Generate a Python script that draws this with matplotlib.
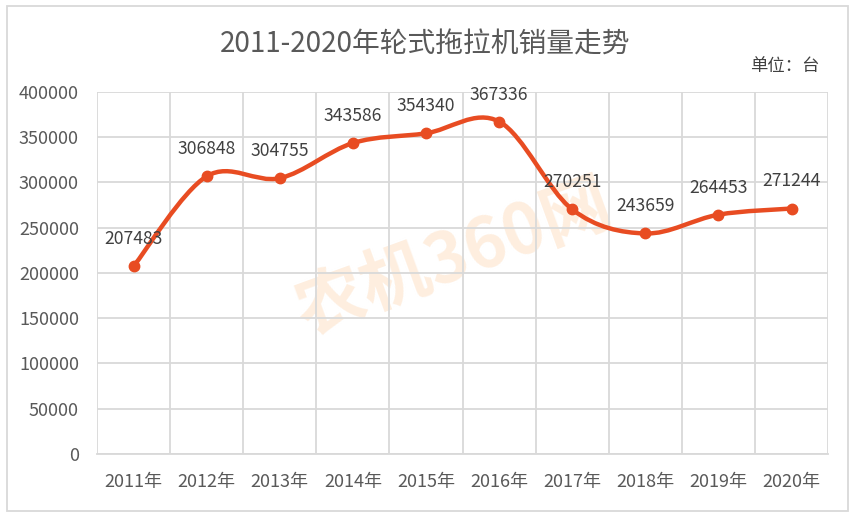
import numpy as np
import matplotlib.pyplot as plt
from matplotlib.path import Path
from matplotlib.patches import PathPatch, Rectangle

plt.rcParams['font.family'] = ['Noto Sans CJK SC', 'DejaVu Sans']

years = ['2011年', '2012年', '2013年', '2014年', '2015年',
         '2016年', '2017年', '2018年', '2019年', '2020年']
sales = [207483, 306848, 304755, 343586, 354340,
         367336, 270251, 243659, 264453, 271244]

line_c = '#E84C22'
grid_c = '#D9D9D9'
text_c = '#595959'

fig = plt.figure(figsize=(8.55, 5.16), dpi=100)
ax = fig.add_axes([0.1135, 0.1202, 0.855, 0.7015])

x = np.arange(len(years))
y = np.array(sales, dtype=float)

# smoothed line (bezier segments like excel's smooth line)
verts = [(x[0], y[0])]
codes = [Path.MOVETO]
n = len(x)
for i in range(n - 1):
    p0 = np.array([x[max(i - 1, 0)], y[max(i - 1, 0)]])
    p1 = np.array([x[i], y[i]])
    p2 = np.array([x[i + 1], y[i + 1]])
    p3 = np.array([x[min(i + 2, n - 1)], y[min(i + 2, n - 1)]])
    c1 = p1 + (p2 - p0) / 6
    c2 = p2 - (p3 - p1) / 6
    verts += [tuple(c1), tuple(c2), tuple(p2)]
    codes += [Path.CURVE4] * 3
ax.add_patch(PathPatch(Path(verts, codes), fill=False, edgecolor=line_c,
                       lw=3.2, capstyle='round', zorder=3))
ax.plot(x, y, 'o', color=line_c, ms=7.5, zorder=4)

for xi, yi in zip(x, sales):
    ax.annotate(str(yi), (xi, yi), xytext=(0, 13), textcoords='offset points',
                ha='center', va='bottom', fontsize=12.6, color='#404040', zorder=5)

ax.set_xlim(-0.5, n - 0.5)
ax.set_ylim(0, 400000)
ax.set_yticks(np.arange(0, 400001, 50000))
ax.set_xticks(x)
ax.set_xticklabels(years)
ax.set_xticks(np.arange(-0.5, n, 1), minor=True)
ax.grid(True, axis='y', color=grid_c, lw=1.3)
ax.grid(True, axis='x', which='minor', color=grid_c, lw=1.3)
ax.set_axisbelow(True)
for s in ['top', 'right', 'left']:
    ax.spines[s].set_visible(False)
ax.spines['bottom'].set_color(grid_c)
ax.spines['bottom'].set_linewidth(1.3)
ax.tick_params(axis='both', which='both', length=0, labelsize=13, labelcolor=text_c)
ax.tick_params(axis='x', pad=14)
ax.tick_params(axis='y', pad=13)

# watermark
ax.text(0.53, 0.50, '农机360网', transform=fig.transFigure, fontsize=50,
        fontweight='bold', color='#FEEEDF', rotation=20, ha='center',
        va='center', zorder=0.4)

fig.text(0.497, 0.913, '2011-2020年轮式拖拉机销量走势', fontsize=20, color=text_c,
         ha='center', va='center')
fig.text(0.959, 0.873, '单位：台', fontsize=12.5, color='#404040',
         ha='right', va='center')

fig.patches.append(Rectangle((0.008, 0.01), 0.984, 0.978, transform=fig.transFigure,
                             fill=False, edgecolor=grid_c, lw=1.3))

fig.savefig('out.png', dpi=100)
